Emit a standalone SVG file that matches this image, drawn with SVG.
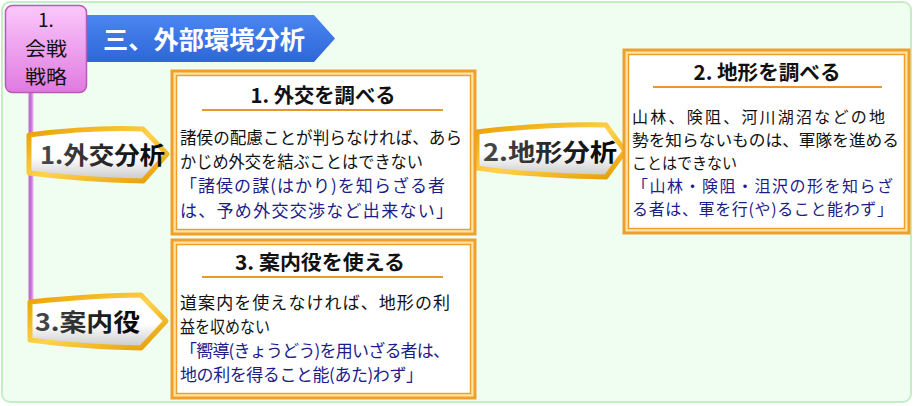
<svg xmlns="http://www.w3.org/2000/svg" width="915" height="406" viewBox="0 0 915 406">
<defs>
<linearGradient id="pinkG" x1="0" y1="0" x2="0" y2="1">
<stop offset="0" stop-color="#fbc8fb"/><stop offset="1" stop-color="#e07ae0"/>
</linearGradient>
<linearGradient id="blueG" x1="0" y1="0" x2="0" y2="1">
<stop offset="0" stop-color="#4a86f0"/><stop offset="1" stop-color="#2f66d8"/>
</linearGradient>
<linearGradient id="ribFill" x1="0" y1="0" x2="0" y2="1">
<stop offset="0" stop-color="#ffffff"/><stop offset="0.55" stop-color="#ffffff"/><stop offset="1" stop-color="#c8c8c8"/>
</linearGradient>
<linearGradient id="ribStroke" x1="0" y1="0" x2="1" y2="1">
<stop offset="0" stop-color="#e8a000"/><stop offset="0.5" stop-color="#ffd24a"/><stop offset="1" stop-color="#e39b00"/>
</linearGradient>
<linearGradient id="txtG" x1="0" y1="0" x2="1" y2="0">
<stop offset="0" stop-color="#4a4a4a"/><stop offset="1" stop-color="#050505"/>
</linearGradient>
<linearGradient id="trunkG" x1="0" y1="0" x2="1" y2="0">
<stop offset="0" stop-color="#c070d0"/><stop offset="0.35" stop-color="#f0b8f6"/><stop offset="1" stop-color="#e6a0ee"/>
</linearGradient>
</defs>
<style>
.t{font-family:"Noto Sans CJK JP","Liberation Sans",sans-serif}
.body{font-size:17px;fill:#111}
.blue{font-size:17px;fill:#1c1c8a}
.b2{font-size:16px}
.ttl{font-size:20px;font-weight:bold;fill:#111;text-anchor:middle}
.frame-o{fill:#fde4a6;stroke:#f0a02a;stroke-width:3}
.frame-i{fill:#ffffff;stroke:#f0a02a;stroke-width:1.5}
.uline{stroke:#e89a28;stroke-width:2}
.rib{fill:url(#ribFill);stroke:url(#ribStroke);stroke-width:5;stroke-linejoin:round}
.ribtxt{font-size:24px;font-weight:bold;fill:url(#txtG)}
.rt{font-size:19px;fill:#111;text-anchor:middle}
</style>
<rect x="2" y="2" width="909" height="400" rx="8" fill="#f0fdf1" stroke="#c6eec6" stroke-width="2"/>

<g id="connectors">
<path d="M31,92 L31,298 Q31,303 38,302" fill="none" stroke="url(#trunkG)" stroke-width="5"/>
</g>

<g id="banner">
<path d="M86,15 L314,15 L335,38.5 L314,62 L86,62 Z" fill="url(#blueG)"/>
<text class="t" x="103" y="49" font-size="25" font-weight="bold" fill="#ffffff" textLength="202" lengthAdjust="spacingAndGlyphs">三、外部環境分析</text>
</g>

<g id="root">
<rect x="5.5" y="5.5" width="81" height="87" rx="7" fill="url(#pinkG)" stroke="#b85ab8" stroke-width="1.5"/>
<text class="t rt" x="46" y="27">1.</text>
<text class="t rt" x="46" y="56" textLength="42" lengthAdjust="spacingAndGlyphs">会戦</text>
<text class="t rt" x="46" y="84" textLength="42" lengthAdjust="spacingAndGlyphs">戦略</text>
</g>

<g id="arrow1">
<path class="rib" d="M29,135 C60,131 100,127 143,129 L167,154 L143,181 C100,180 60,177 29,173 Z"/>
<text class="t ribtxt" x="40" y="164" textLength="125" lengthAdjust="spacingAndGlyphs">1.外交分析</text>
</g>

<g id="arrow2">
<path class="rib" d="M477,132 C510,128 560,124 606,125 L625,151 L606,177 C560,176 510,173 477,168 Z"/>
<text class="t ribtxt" x="483" y="161" textLength="134" lengthAdjust="spacingAndGlyphs">2.地形分析</text>
</g>

<g id="arrow3">
<path class="rib" d="M30,302 C60,299 100,295 141,295 L166,321 L141,348 C100,347 60,344 30,340 Z"/>
<text class="t ribtxt" x="35" y="331" textLength="105" lengthAdjust="spacingAndGlyphs">3.案内役</text>
</g>

<g id="box1">
<rect class="frame-o" x="172" y="71" width="303" height="163"/>
<rect class="frame-i" x="176.5" y="75.5" width="294" height="154"/>
<text class="t ttl" x="323" y="103" textLength="145" lengthAdjust="spacingAndGlyphs">1. 外交を調べる</text>
<line class="uline" x1="202" y1="110" x2="443" y2="110"/>
<text class="t body" x="180" y="144" textLength="282" lengthAdjust="spacingAndGlyphs">諸侯の配慮ことが判らなければ、あら</text>
<text class="t body" x="180" y="168" textLength="243" lengthAdjust="spacingAndGlyphs">かじめ外交を結ぶことはできない</text>
<text class="t blue" x="180" y="192" textLength="265" lengthAdjust="spacing">「諸侯の謀(はかり)を知らざる者</text>
<text class="t blue" x="180" y="217" textLength="273" lengthAdjust="spacing">は、予め外交交渉など出来ない」</text>
</g>

<g id="box2">
<rect class="frame-o" x="624" y="50" width="285" height="183"/>
<rect class="frame-i" x="628.5" y="54.5" width="276" height="174"/>
<text class="t ttl" x="767" y="80" textLength="147" lengthAdjust="spacingAndGlyphs">2. 地形を調べる</text>
<line class="uline" x1="653" y1="87" x2="882" y2="87"/>
<text class="t body b2" x="632" y="123" textLength="253" lengthAdjust="spacing">山林、険阻、河川湖沼などの地</text>
<text class="t body b2" x="632" y="146" textLength="267" lengthAdjust="spacingAndGlyphs">勢を知らないものは、軍隊を進める</text>
<text class="t body b2" x="632" y="169" textLength="105" lengthAdjust="spacingAndGlyphs">ことはできない</text>
<text class="t blue b2" x="632" y="192" textLength="261" lengthAdjust="spacing">「山林・険阻・沮沢の形を知らざ</text>
<text class="t blue b2" x="632" y="215" textLength="261" lengthAdjust="spacing">る者は、軍を行(や)ること能わず」</text>
</g>

<g id="box3">
<rect class="frame-o" x="172" y="240" width="303" height="158"/>
<rect class="frame-i" x="176.5" y="244.5" width="294" height="149"/>
<text class="t ttl" x="320" y="270" textLength="170" lengthAdjust="spacingAndGlyphs">3. 案内役を使える</text>
<line class="uline" x1="202" y1="277" x2="443" y2="277"/>
<text class="t body" x="180" y="309" textLength="270" lengthAdjust="spacing">道案内を使えなければ、地形の利</text>
<text class="t body" x="180" y="333" textLength="90" lengthAdjust="spacingAndGlyphs">益を収めない</text>
<text class="t blue" x="180" y="357" textLength="270" lengthAdjust="spacing">「嚮導(きょうどう)を用いざる者は、</text>
<text class="t blue" x="180" y="381" textLength="243" lengthAdjust="spacing">地の利を得ること能(あた)わず」</text>
</g>
</svg>
